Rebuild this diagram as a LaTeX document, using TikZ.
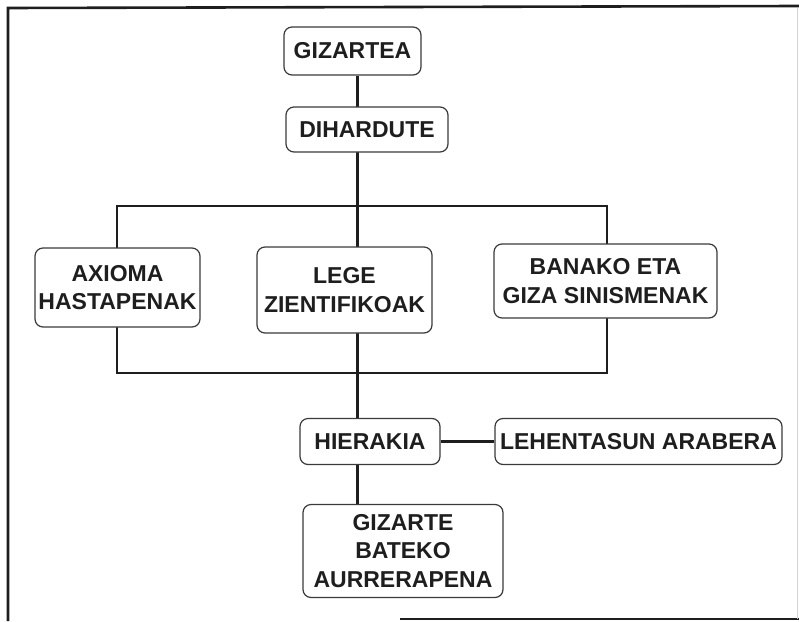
\documentclass[tikz,border=0pt]{standalone}
\usepackage{fontspec}
\setmainfont{Liberation Sans}
\usetikzlibrary{backgrounds}
\definecolor{ink}{HTML}{1E1E1E}
\definecolor{edge}{HTML}{3A3A3A}
\begin{document}
\begin{tikzpicture}[x=1pt,y=-1pt,
  box/.style={draw=edge, line width=1.2pt, rounded corners=8pt, fill=white,
    text=ink, align=center, inner sep=0pt,
    font=\fontsize{23}{28.5}\selectfont\bfseries},
  conn/.style={draw=ink, line width=2.5pt},
  frame/.style={draw=ink, line width=2.6pt}]
\useasboundingbox (0,0) rectangle (799,621);

% outer frame
\draw[frame] (8,621) -- (8,8) -- (799,6);
\draw[frame] (400,619) -- (799,619);
\draw[gray!35, line width=1pt] (797,8) -- (797,619);

% boxes
\node[box, minimum width=137pt, minimum height=48pt] (gizartea) at (352.5,51) {GIZARTEA};
\node[box, minimum width=162pt, minimum height=45pt] (dihardute) at (367,129.5) {DIHARDUTE};
\node[box, minimum width=165pt, minimum height=79pt] (axioma) at (117.5,287.5) {AXIOMA\\HASTAPENAK};
\node[box, minimum width=175pt, minimum height=86pt] (lege) at (344.5,290) {LEGE\\ZIENTIFIKOAK};
\node[box, minimum width=223pt, minimum height=74pt] (banako) at (605.5,281) {BANAKO ETA\\GIZA SINISMENAK};
\node[box, minimum width=140pt, minimum height=46pt] (hierakia) at (370,441.5) {HIERAKIA};
\node[box, minimum width=287pt, minimum height=46pt] (lehentasun) at (638.5,441.5) {LEHENTASUN ARABERA};
\node[box, minimum width=200pt, minimum height=93pt] (aurrera) at (403,551) {GIZARTE\\BATEKO\\AURRERAPENA};

% bracket corners and spine
\coordinate (spinetop) at (357.5,206);
\coordinate (spinebot) at (357.5,373);
\coordinate (brtl) at (117,206);
\coordinate (brbr) at (607,373);

\begin{scope}[on background layer]
  \draw[conn] (gizartea.south -| spinetop) -- (spinetop);
  \draw[conn] (brtl) rectangle (brbr);
  \draw[conn] (spinetop) -- (hierakia.north -| spinetop);
  \draw[conn] (hierakia.east) -- (lehentasun.west);
  \draw[conn] (hierakia.south -| spinebot) -- (aurrera.north -| spinebot);
\end{scope}
\end{tikzpicture}
\end{document}
